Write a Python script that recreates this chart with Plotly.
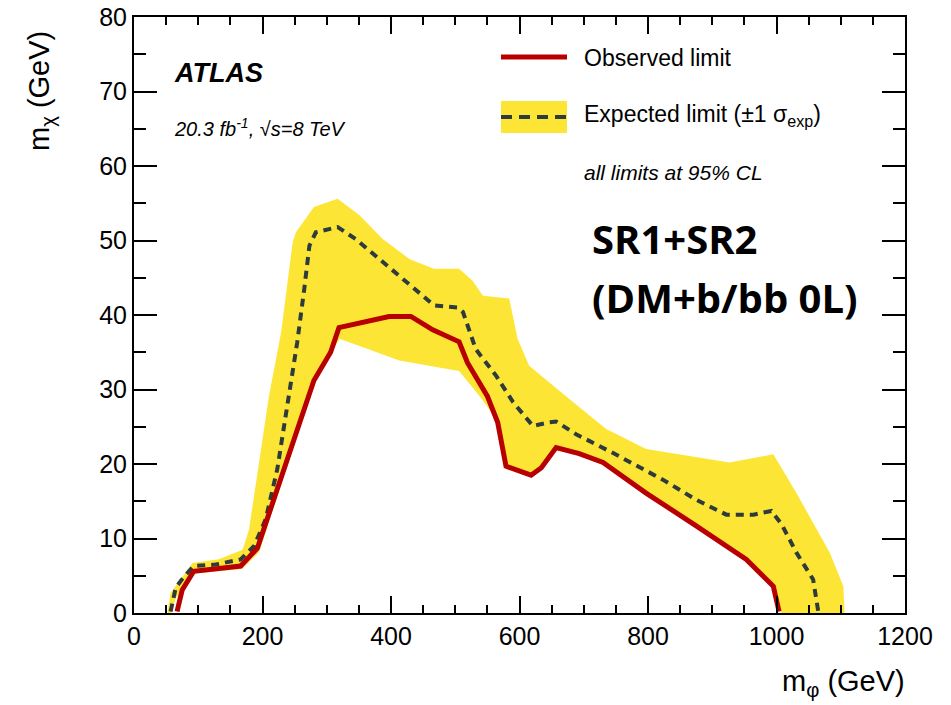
import plotly.graph_objects as go

# ---------------- data ----------------
obs_x = [67, 75, 93, 166, 192, 280, 306, 319, 397, 431, 465, 506, 519, 550, 566, 579,
         618, 634, 657, 693, 730, 797, 875, 953, 995, 1004]
obs_y = [0.2, 3.1, 5.6, 6.3, 8.7, 31.2, 35.0, 38.3, 39.8, 39.8, 38.0, 36.4, 33.6, 29.1, 25.6, 19.7,
         18.5, 19.5, 22.2, 21.4, 20.2, 16.1, 11.7, 7.2, 3.6, 0.2]

exp_x = [57, 65, 78, 93, 127, 166, 187, 205, 223, 244, 254, 265, 273, 283, 317, 345, 387, 434,
         467, 504, 512, 532, 564, 590, 621, 647, 657, 688, 745, 823, 875, 922, 964, 992, 1008,
         1031, 1057, 1065]
exp_y = [0.2, 3.4, 4.9, 6.3, 6.5, 7.2, 9.0, 12.6, 19.3, 30.5, 36.3, 43.5, 49.3, 51.1, 51.8, 50.2,
         47.1, 43.7, 41.3, 41.0, 40.4, 35.4, 31.8, 28.3, 25.1, 25.6, 25.7, 24.0, 21.5, 17.9, 15.2,
         13.2, 13.2, 13.7, 11.9, 8.1, 4.5, 0.2]

band_up_x = [52, 57, 91, 132, 169, 179, 210, 229, 247, 252, 280, 317, 351, 387, 429, 467, 506,
             527, 543, 584, 597, 615, 678, 735, 797, 927, 995, 1031, 1083, 1104, 1106]
band_up_y = [0, 2.7, 6.7, 7.2, 8.5, 11.2, 29.1, 37.7, 49.8, 51.1, 54.5, 55.6, 53.4, 50.2, 47.5,
             46.2, 46.2, 44.6, 42.6, 42.2, 36.8, 33.2, 28.7, 24.7, 22.0, 20.2, 21.3, 16.1, 8.1,
             3.6, 0]

band_lo_x = [1008, 995, 953, 875, 797, 730, 693, 657, 634, 618, 579, 564, 538, 506, 413, 320,
             306, 280, 195, 168, 95, 80, 65, 58]
band_lo_y = [0, 3.3, 6.9, 11.4, 15.8, 19.9, 21.1, 21.9, 19.2, 18.2, 19.3, 26.0, 29.1, 32.5, 33.9,
             36.8, 34.7, 30.9, 8.2, 5.9, 5.3, 3.6, 2.0, 0]

x_ticks = [0, 200, 400, 600, 800, 1000, 1200]
y_ticks = [0, 10, 20, 30, 40, 50, 60, 70, 80]

# ---------------- layout geometry ----------------
W, H = 951, 705
L, R, T, B = 134, 905, 17, 613


def px(x):
    return (x - L) / (R - L)


def py(y):
    return (B - y) / (B - T)


YELLOW = "#FDE536"
RED = "#B80000"
DASH = "#2E3B3B"
FONT = "Liberation Sans"

fig = go.Figure()

fig.add_trace(go.Scatter(
    x=band_up_x + band_lo_x, y=band_up_y + band_lo_y,
    fill="toself", fillcolor=YELLOW, line=dict(width=0), mode="lines",
    hoverinfo="skip", showlegend=False))

fig.add_trace(go.Scatter(
    x=exp_x, y=exp_y, mode="lines",
    line=dict(color=DASH, width=4, dash="8px,6px"), showlegend=False))

fig.add_trace(go.Scatter(
    x=obs_x, y=obs_y, mode="lines",
    line=dict(color=RED, width=5), showlegend=False))

axis_common = dict(
    showline=True, linewidth=2, linecolor="black", mirror="ticks",
    ticks="inside", tickcolor="black", tickwidth=1.5,
    showgrid=False, zeroline=False, automargin=False,
    tickfont=dict(family=FONT, size=25, color="black"),
)

fig.update_xaxes(range=[0, 1200], tickvals=x_ticks, ticklen=17,
                 minor=dict(dtick=50, ticks="inside", ticklen=8, tickcolor="black",
                            tickwidth=1.5, showgrid=False),
                 **axis_common)
fig.update_yaxes(range=[0, 80], tickvals=y_ticks, ticklen=23,
                 minor=dict(dtick=5, ticks="inside", ticklen=12, tickcolor="black",
                            tickwidth=1.5, showgrid=False),
                 **axis_common)

# legend samples
shapes = [
    dict(type="line", xref="paper", yref="paper", x0=px(501), x1=px(567), y0=py(57), y1=py(57),
         line=dict(color=RED, width=5)),
    dict(type="rect", xref="paper", yref="paper", x0=px(501), x1=px(567), y0=py(133), y1=py(101),
         fillcolor=YELLOW, line=dict(width=0)),
    dict(type="line", xref="paper", yref="paper", x0=px(501), x1=px(567), y0=py(117), y1=py(117),
         line=dict(color=DASH, width=4, dash="11px,7px")),
]

ann = []


def text(x, y, s, size, family=FONT, xanchor="left", yanchor="middle", angle=0):
    ann.append(dict(x=px(x), y=py(y), xref="paper", yref="paper", text=s, showarrow=False,
                    xanchor=xanchor, yanchor=yanchor, textangle=angle,
                    font=dict(family=family, size=size, color="black")))


text(582, 58, "Observed limit", 23)
text(582, 115, "Expected limit (±1 σ<sub>exp</sub>)", 23)
text(582, 172, "<i>all limits at 95% CL</i>", 21)
text(172, 73, "<b><i>ATLAS</i></b>", 27)
text(172, 127, "<i>20.3 fb<sup>-1</sup>, √s=8 TeV</i>", 20)
text(590, 238, "<b>SR1+SR2</b>", 40, family="Open Sans")
text(590, 297, "<b>(DM+b/bb 0L)</b>", 40, family="Open Sans")
text(41, 91, "m<sub>χ</sub> (GeV)", 29, angle=-90, xanchor="center")
text(907, 683, "m<sub>φ</sub> (GeV)", 29, xanchor="right")

fig.update_layout(
    width=W, height=H, autosize=False,
    margin=dict(l=L, r=W - R, t=T, b=H - B, pad=0),
    paper_bgcolor="white", plot_bgcolor="white",
    shapes=shapes, annotations=ann, showlegend=False,
)

fig.write_html("out.html")
